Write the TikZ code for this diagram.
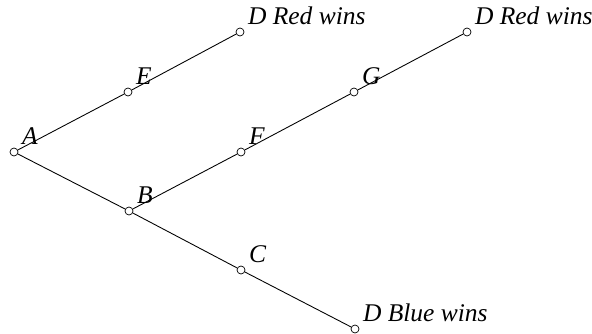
\documentclass[tikz,border=0pt]{standalone}
\usepackage{fontspec}
\setmainfont{Liberation Serif}
\usetikzlibrary{positioning}

\begin{document}
\begin{tikzpicture}[x=0.02cm, y=-0.02cm,
  every node/.style={circle, draw=black, fill=white, inner sep=0pt, minimum size=0.16cm},
  every label/.style={draw=none, fill=none, rectangle, inner sep=0pt, anchor=base west,
    font=\fontsize{14.5}{17}\selectfont\itshape},
  label distance=0.13cm,
  every edge/.style={draw=black, line width=0.5pt}
]
\useasboundingbox (0,0) rectangle (592,334);

\node (A)  at (14, 152)  [label=45:A] {};
\node (E)  at (128, 92)  [label=45:E] {};
\node (D1) at (240, 32)  [label=45:D Red wins] {};   % upper branch ends
\node (B)  at (129, 211) [label=45:B] {};
\node (F)  at (241, 152) [label=45:F] {};
\node (G)  at (354, 92)  [label=45:G] {};
\node (D2) at (467, 32)  [label=45:D Red wins] {};   % middle branch ends
\node (C)  at (241, 270) [label=45:C] {};
\node (D3) at (355, 329) [label=45:D Blue wins] {};  % lower branch ends

% ---- Edges ----
\draw[line width=0.5pt] (A) -- (E) -- (D1);
\draw[line width=0.5pt] (A) -- (B) -- (F) -- (G) -- (D2);
\draw[line width=0.5pt] (B) -- (C) -- (D3);
\end{tikzpicture}
\end{document}
